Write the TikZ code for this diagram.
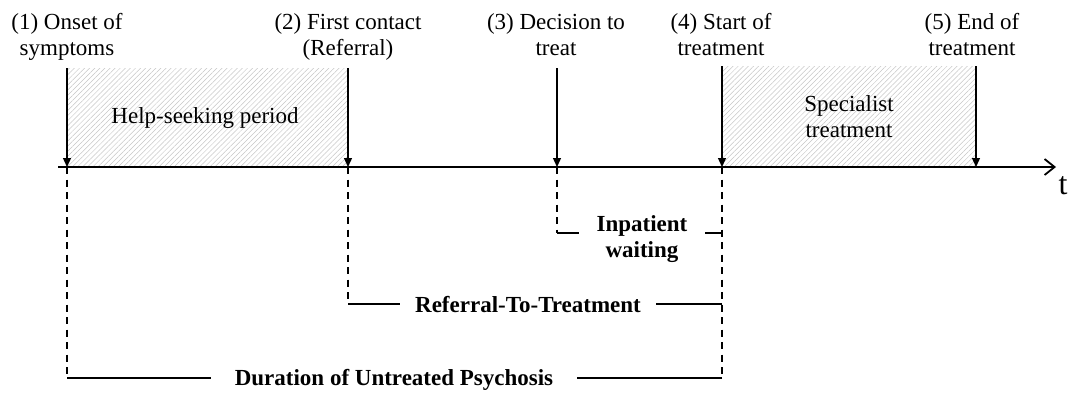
\documentclass[tikz,border=0pt]{standalone}
\usepackage{fontspec}
\setmainfont{Liberation Serif}
\usetikzlibrary{arrows.meta,patterns.meta}
\begin{document}
\begin{tikzpicture}[x=1pt,y=-1pt,
  lbl/.style={font=\fontsize{23}{26}\selectfont, align=center, inner sep=0pt},
  blbl/.style={font=\fontsize{23}{26}\selectfont\bfseries, align=center, inner ysep=0pt},
  evt/.style={-{Triangle[length=9pt,width=8pt]}, line width=1.3pt},
  dsh/.style={dash pattern=on 7pt off 5.5pt, line width=1.9pt},
  span/.style={line width=1.8pt},
  hatch/.style={pattern={Lines[angle=45,distance=3.6pt,line width=0.5pt]}, pattern color=gray!45}]
\useasboundingbox (0,0) rectangle (1071,392);
% hatched periods
\fill[hatch] (67,68) rectangle (348,167);
\fill[hatch] (722,66) rectangle (976,167);
% axis
\coordinate (ax0) at (58,167);
\coordinate (ax1) at (1056,167);
\draw[line width=2.6pt, -{Straight Barb[length=10pt,width=16pt,line width=1.8pt]}] (ax0) -- (ax1);
\node[font=\fontsize{32}{32}\selectfont, inner sep=0pt] (t) at (1063,186) {t};
% events
\coordinate (t1) at (67,167);  \coordinate (a1) at (67,68);
\coordinate (t2) at (348,167); \coordinate (a2) at (348,68);
\coordinate (t3) at (557,167); \coordinate (a3) at (557,68);
\coordinate (t4) at (722,167); \coordinate (a4) at (722,66);
\coordinate (t5) at (976,167); \coordinate (a5) at (976,66);
\node[lbl, anchor=base] (l1) at (67,55) {(1) Onset of\\symptoms};
\node[lbl, anchor=base] (l2) at (348,55) {(2) First contact\\(Referral)};
\node[lbl, anchor=base] (l3) at (556,55) {(3) Decision to\\treat};
\node[lbl, anchor=base] (l4) at (721,55) {(4) Start of\\treatment};
\node[lbl, anchor=base] (l5) at (972,55) {(5) End of\\treatment};
\foreach \i in {1,...,5} {\draw[evt] (a\i) -- (t\i);}
\node[lbl, anchor=base] (hs) at (205,123) {Help-seeking period};
\node[lbl, anchor=base] (sp) at (849,137) {Specialist\\treatment};
% intervals
\coordinate (c3) at (557,233);
\coordinate (c4a) at (722,233);
\coordinate (c4b) at (722,304);
\coordinate (c4c) at (722,378);
\coordinate (c2) at (348,304);
\coordinate (c1) at (67,378);
\node[blbl, anchor=base, inner xsep=17pt] (ip) at (642,257) {Inpatient\\waiting};
\node[blbl, anchor=base, inner xsep=15pt] (rt) at (528,312) {Referral-To-Treatment};
\node[blbl, anchor=base, inner xsep=24pt] (dup) at (394,385) {Duration of Untreated Psychosis};
\draw[dsh] (t3) -- (c3);
\draw[dsh] (t2) -- (c2);
\draw[dsh] (t1) -- (c1);
\draw[dsh] (t4) -- (c4c);
\draw[span] (c3) -- (c3 -| ip.west);
\draw[span] (c4a) -- (c4a -| ip.east);
\draw[span] (c2) -- (c2 -| rt.west);
\draw[span] (c4b) -- (c4b -| rt.east);
\draw[span] (c1) -- (c1 -| dup.west);
\draw[span] (c4c) -- (c4c -| dup.east);
\end{tikzpicture}
\end{document}
